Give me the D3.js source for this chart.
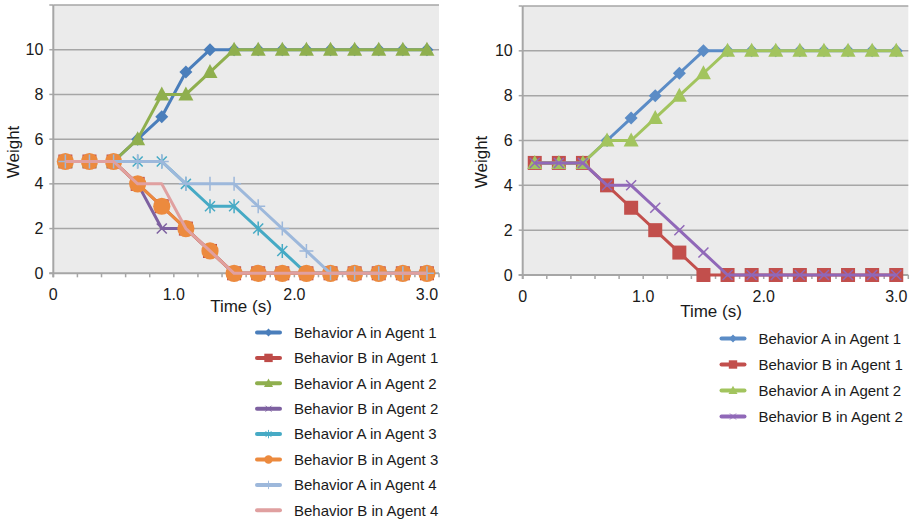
<!DOCTYPE html>
<html>
<head>
<meta charset="utf-8">
<script src="https://cdn.jsdelivr.net/npm/d3@7/dist/d3.min.js"></script>
<style>
	body { margin: 0; background: #fff; }
	svg { display: block; font-family: "Liberation Sans", Arial, sans-serif; }
</style>
</head>
<body>
<div id="chart"></div>
<script>
// time of each sample (s)
const times = [0.1, 0.3, 0.5, 0.7, 0.9, 1.1, 1.3, 1.5, 1.7, 1.9, 2.1, 2.3, 2.5, 2.7, 2.9, 3.1];

// left chart: four agents
const leftA1 = [5, 5, 5, 6, 7, 9, 10, 10, 10, 10, 10, 10, 10, 10, 10, 10];
const leftB1 = [5, 5, 5, 4, 3, 2, 1, 0, 0, 0, 0, 0, 0, 0, 0, 0];
const leftA2 = [5, 5, 5, 6, 8, 8, 9, 10, 10, 10, 10, 10, 10, 10, 10, 10];
const leftB2 = [5, 5, 5, 4, 2, 2, 1, 0, 0, 0, 0, 0, 0, 0, 0, 0];
const leftA3 = [5, 5, 5, 5, 5, 4, 3, 3, 2, 1, 0, 0, 0, 0, 0, 0];
const leftB3 = [5, 5, 5, 4, 3, 2, 1, 0, 0, 0, 0, 0, 0, 0, 0, 0];
const leftA4 = [5, 5, 5, 5, 5, 4, 4, 4, 3, 2, 1, 0, 0, 0, 0, 0];
const leftB4 = [5, 5, 5, 4, 4, 2, 1, 0, 0, 0, 0, 0, 0, 0, 0, 0];

// right chart: two agents
const rightA1 = [5, 5, 5, 6, 7, 8, 9, 10, 10, 10, 10, 10, 10, 10, 10, 10];
const rightB1 = [5, 5, 5, 4, 3, 2, 1, 0, 0, 0, 0, 0, 0, 0, 0, 0];
const rightA2 = [5, 5, 5, 6, 6, 7, 8, 9, 10, 10, 10, 10, 10, 10, 10, 10];
const rightB2 = [5, 5, 5, 4, 4, 3, 2, 1, 0, 0, 0, 0, 0, 0, 0, 0];

const yTickValues = [0, 2, 4, 6, 8, 10, 12];
const xTickValues = [0, 1, 2, 3.1];
const xTickLabels = ["0", "1.0", "2.0", "3.0"];

const leftSeries = [
	{name: "Behavior A in Agent 1", values: leftA1, color: "#4A7EBB", marker: "diamond"},
	{name: "Behavior B in Agent 1", values: leftB1, color: "#BE4B48", marker: "square"},
	{name: "Behavior A in Agent 2", values: leftA2, color: "#8FAF4E", marker: "triangle"},
	{name: "Behavior B in Agent 2", values: leftB2, color: "#7D60A0", marker: "x"},
	{name: "Behavior A in Agent 3", values: leftA3, color: "#46AAC5", marker: "star"},
	{name: "Behavior B in Agent 3", values: leftB3, color: "#EC8A3E", marker: "circle"},
	{name: "Behavior A in Agent 4", values: leftA4, color: "#9DB8DB", marker: "plus"},
	{name: "Behavior B in Agent 4", values: leftB4, color: "#E0A0A0", marker: "none"}
];

const rightSeries = [
	{name: "Behavior A in Agent 1", values: rightA1, color: "#5B8CC6", marker: "diamond"},
	{name: "Behavior B in Agent 1", values: rightB1, color: "#C24F4C", marker: "square"},
	{name: "Behavior A in Agent 2", values: rightA2, color: "#A2C45E", marker: "triangle"},
	{name: "Behavior B in Agent 2", values: rightB2, color: "#9068B8", marker: "x"}
];

const svg = d3.select('#chart').append('svg')
	.attr('width', 913)
	.attr('height', 524);

function drawMarker(g, type, color, cx, cy, k = 1) {
	const m = g.append('g').attr('transform', `translate(${cx}, ${cy}) scale(${k})`);
	if (type === 'diamond') {
		m.append('path').attr('d', 'M0,-6.5L6.5,0L0,6.5L-6.5,0Z').attr('fill', color);
	} else if (type === 'square') {
		m.append('rect').attr('x', -7).attr('y', -7).attr('width', 14).attr('height', 14).attr('fill', color);
	} else if (type === 'triangle') {
		m.append('path').attr('d', 'M0,-8L7.5,6L-7.5,6Z').attr('fill', color);
	} else if (type === 'circle') {
		m.append('circle').attr('r', k < 1 ? 7 : 8.6).attr('fill', color);
	} else if (type === 'x') {
		m.append('path').attr('d', 'M-5,-5L5,5M-5,5L5,-5')
			.attr('stroke', color).attr('stroke-width', 1.5);
	} else if (type === 'star') {
		m.append('path').attr('d', 'M-5,-5L5,5M-5,5L5,-5M0,-7L0,7')
			.attr('stroke', color).attr('stroke-width', 1.5);
	} else if (type === 'plus') {
		m.append('path').attr('d', 'M0,-7L0,7M-7,0L7,0')
			.attr('stroke', color).attr('stroke-width', 1.5);
	}
}

function drawChart(config) {
	const x = d3.scaleLinear().domain([0, 3.2]).range([config.left, config.right]);
	const y = d3.scaleLinear().domain([0, 12]).range([config.bottom, config.top]);
	const g = svg.append('g');
	const axisColor = '#A6A6A6';

	g.append('rect')
		.attr('x', config.left)
		.attr('y', config.top)
		.attr('width', config.right - config.left)
		.attr('height', config.bottom - config.top)
		.attr('fill', '#EBEBEB');

	// horizontal gridlines
	g.append('g').selectAll('line')
		.data(yTickValues.filter(d => d > 0))
		.enter()
		.append('line')
			.attr('x1', config.left)
			.attr('x2', config.right)
			.attr('y1', d => y(d))
			.attr('y2', d => y(d))
			.attr('stroke', axisColor)
			.attr('stroke-width', 1.5);

	// axes lines and tick marks
	g.append('line')
		.attr('x1', config.left).attr('x2', config.left)
		.attr('y1', config.top).attr('y2', config.bottom + 4)
		.attr('stroke', axisColor).attr('stroke-width', 2);
	g.append('line')
		.attr('x1', config.left - 4).attr('x2', config.right)
		.attr('y1', config.bottom).attr('y2', config.bottom)
		.attr('stroke', axisColor).attr('stroke-width', 2);

	g.append('g').selectAll('line')
		.data(yTickValues)
		.enter()
		.append('line')
			.attr('x1', config.left - 4).attr('x2', config.left)
			.attr('y1', d => y(d)).attr('y2', d => y(d))
			.attr('stroke', axisColor).attr('stroke-width', 1.5);

	g.append('g').selectAll('line')
		.data(d3.range(0, 17).map(i => i * 0.2))
		.enter()
		.append('line')
			.attr('x1', d => x(d)).attr('x2', d => x(d))
			.attr('y1', config.bottom).attr('y2', config.bottom + 4)
			.attr('stroke', axisColor).attr('stroke-width', 1.5);

	// tick labels
	g.append('g').selectAll('text')
		.data(yTickValues.filter(d => d <= 10))
		.enter()
		.append('text')
			.attr('x', config.left - 10)
			.attr('y', d => y(d))
			.attr('dy', '0.35em')
			.attr('text-anchor', 'end')
			.attr('font-size', 16)
			.attr('fill', '#1a1a1a')
			.text(d => d);

	g.append('g').selectAll('text')
		.data(xTickValues)
		.enter()
		.append('text')
			.attr('x', d => x(d))
			.attr('y', config.bottom + 27)
			.attr('text-anchor', 'middle')
			.attr('font-size', 16)
			.attr('fill', '#1a1a1a')
			.text((d, i) => xTickLabels[i]);

	// titles
	g.append('text')
		.attr('transform', `translate(${config.yTitleX}, ${config.yTitleY}) rotate(-90)`)
		.attr('text-anchor', 'middle')
		.attr('dy', '0.35em')
		.attr('font-size', 17)
		.attr('fill', '#1a1a1a')
		.text('Weight');

	g.append('text')
		.attr('x', config.xTitleX)
		.attr('y', config.xTitleY)
		.attr('text-anchor', 'middle')
		.attr('dy', '0.35em')
		.attr('font-size', 17)
		.attr('fill', '#1a1a1a')
		.text('Time (s)');

	// series
	const line = d3.line()
		.x((d, i) => x(times[i]))
		.y(d => y(d));

	config.series.forEach(s => {
		const sg = g.append('g');
		sg.append('path')
			.datum(s.values)
			.attr('d', line)
			.attr('fill', 'none')
			.attr('stroke', s.color)
			.attr('stroke-width', 3)
			.attr('stroke-linejoin', 'round');
		s.values.forEach((v, i) => drawMarker(sg, s.marker, s.color, x(times[i]), y(v)));
	});

	// legend
	const lg = g.append('g');
	config.series.forEach((s, k) => {
		const ly = config.legendY + k * config.legendStep;
		lg.append('line')
			.attr('x1', config.legendX + 2).attr('x2', config.legendX + 25)
			.attr('y1', ly).attr('y2', ly)
			.attr('stroke', s.color).attr('stroke-width', 4)
			.attr('stroke-linecap', 'round');
		drawMarker(lg, s.marker, s.color, config.legendX + 13.5, ly, 0.6);
		lg.append('text')
			.attr('x', config.legendX + 39)
			.attr('y', ly)
			.attr('dy', '0.35em')
			.attr('font-size', 15)
			.attr('fill', '#1a1a1a')
			.text(s.name);
	});
}

drawChart({
	series: leftSeries,
	left: 53.3, right: 439, top: 5, bottom: 273.3,
	yTitleX: 13, yTitleY: 152,
	xTitleX: 241, xTitleY: 306,
	legendX: 255, legendY: 332.5, legendStep: 25.4
});

drawChart({
	series: rightSeries,
	left: 522.7, right: 908.3, top: 6, bottom: 275,
	yTitleX: 481.5, yTitleY: 162,
	xTitleX: 711, xTitleY: 311,
	legendX: 719.5, legendY: 338.5, legendStep: 26
});
</script>
</body>
</html>
